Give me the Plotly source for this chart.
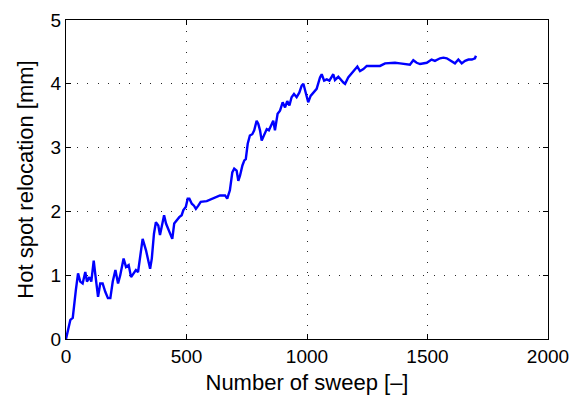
import plotly.graph_objects as go

sweep = [0, 11, 18, 28, 34, 41, 50, 59, 69, 80, 87, 97, 105, 115, 122, 133, 142, 152, 163, 174, 184,
         194, 205, 216, 225, 239, 249, 260, 270, 281, 290, 299, 308, 318, 332, 341, 349, 356, 365,
         373, 383, 390, 397, 407, 415, 424, 434, 441, 449, 459, 470, 480, 487, 497, 505, 512, 522,
         531, 539, 549, 559, 584, 611, 639, 660, 669, 680, 690, 698, 708, 715, 722, 732, 740, 746,
         754, 763, 773, 781, 791, 798, 805, 812, 823, 833, 842, 851, 860, 867, 878, 888, 899, 909,
         918, 927, 936, 946, 957, 968, 978, 985, 996, 1005, 1015, 1026, 1040, 1054, 1061, 1071,
         1082, 1093, 1109, 1116, 1130, 1151, 1158, 1171, 1192, 1209, 1220, 1234, 1248, 1268, 1282,
         1303, 1324, 1344, 1365, 1386, 1414, 1427, 1441, 1455, 1469, 1497, 1517, 1531, 1552, 1566,
         1580, 1600, 1614, 1628, 1642, 1656, 1670, 1684, 1697, 1701]
relocation = [0.0, 0.19, 0.30, 0.33, 0.56, 0.77, 1.03, 0.90, 0.87, 1.05, 0.90, 0.97, 0.90, 1.23, 1.00,
              0.66, 0.87, 0.87, 0.74, 0.64, 0.64, 0.90, 1.08, 0.87, 1.00, 1.26, 1.13, 1.16, 0.97, 1.03,
              1.08, 1.05, 1.31, 1.57, 1.39, 1.26, 1.10, 1.26, 1.65, 1.83, 1.78, 1.63, 1.75, 1.94, 1.81,
              1.73, 1.63, 1.57, 1.81, 1.86, 1.91, 1.94, 2.02, 2.07, 2.20, 2.20, 2.12, 2.09, 2.04, 2.09,
              2.15, 2.16, 2.20, 2.25, 2.25, 2.20, 2.33, 2.61, 2.67, 2.64, 2.48, 2.56, 2.72, 2.80, 2.82,
              3.06, 3.19, 3.21, 3.27, 3.42, 3.37, 3.27, 3.11, 3.21, 3.29, 3.27, 3.34, 3.42, 3.27, 3.53,
              3.58, 3.71, 3.63, 3.73, 3.66, 3.79, 3.84, 3.79, 3.86, 3.97, 4.00, 3.84, 3.71, 3.81, 3.86,
              3.92, 4.10, 4.15, 4.05, 4.07, 4.05, 4.15, 4.06, 4.11, 4.02, 4.00, 4.10, 4.19, 4.27, 4.20,
              4.23, 4.28, 4.28, 4.27, 4.28, 4.32, 4.33, 4.33, 4.32, 4.31, 4.30, 4.37, 4.33, 4.31, 4.33,
              4.38, 4.36, 4.40, 4.41, 4.40, 4.36, 4.32, 4.38, 4.32, 4.36, 4.38, 4.38, 4.40, 4.44]

x_ticks = [0, 500, 1000, 1500, 2000]
y_ticks = [0, 1, 2, 3, 4, 5]

FONT = "Liberation Sans, Arial, Helvetica, sans-serif"

fig = go.Figure()
fig.add_trace(go.Scatter(x=sweep, y=relocation, mode="lines",
                         line=dict(color="#0000FF", width=2.4), showlegend=False,
                         hoverinfo="skip"))

axis_common = dict(
    showline=True, linecolor="black", linewidth=1, mirror="ticks",
    ticks="inside", ticklen=5, tickcolor="black",
    showgrid=True, gridcolor="rgba(0,0,0,0.85)", griddash="1px,9.5px", gridwidth=1,
    zeroline=False,
    tickfont=dict(family=FONT, size=19, color="black"),
    title_font=dict(family=FONT, size=22, color="black"),
)

fig.update_xaxes(range=[0, 2000], tickvals=x_ticks, ticktext=[str(v) for v in x_ticks],
                 title_text="Number of sweep [\u2013]", title_standoff=8, **axis_common)
fig.update_yaxes(range=[0, 5], tickvals=y_ticks, ticktext=[str(v) for v in y_ticks],
                 title_text="Hot spot relocation [mm]", title_standoff=10, **axis_common)

fig.update_layout(
    width=581, height=401,
    margin=dict(l=66, r=33, t=20, b=62, autoexpand=False),
    plot_bgcolor="white", paper_bgcolor="white",
    hovermode=False,
)

fig.write_html("out.html", config={"displayModeBar": False, "staticPlot": True},
               post_script="document.body.style.margin='0';")
